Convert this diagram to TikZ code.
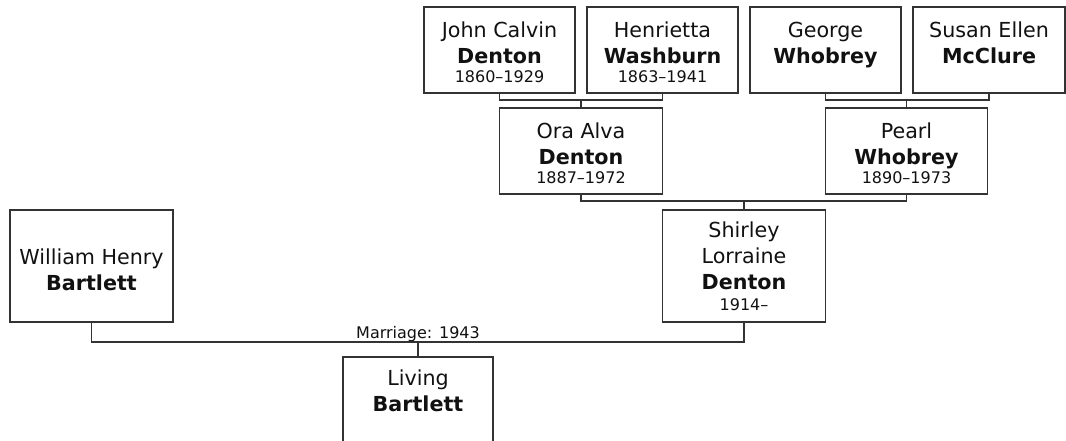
\documentclass[tikz,border=0pt]{standalone}
\usepackage{fontspec}
\setmainfont{DejaVu Sans}
\usepackage{tikz}
\usetikzlibrary{positioning}
\usepackage{xcolor}
\definecolor{linegray}{RGB}{51,51,51}
\definecolor{inkblack}{RGB}{17,17,17}
\newcommand{\yrs}[1]{{\fontsize{12}{14}\selectfont #1}}
\newcommand{\lift}[1]{\rule{0pt}{#1}}

\begin{document}
\begin{tikzpicture}[
    x=0.75pt, y=-0.75pt,
    node distance=9pt,
    box/.style={draw=linegray, line width=1pt, outer sep=0pt, minimum width=113.25pt, minimum height=64.5pt,
      align=center, inner sep=2pt, text=inkblack, font=\fontsize{15.5}{19.5}\selectfont},
    widebox/.style={box, minimum width=122.25pt},
    tallbox/.style={widebox, minimum height=84pt},
    link/.style={draw=linegray, line width=1pt},
    lbl/.style={inner sep=0pt, text=inkblack, font=\fontsize{12}{14}\selectfont}
  ]
    \useasboundingbox (0,0) rectangle (1066,441);
    % grandparents
    \node[box, anchor=north west] (john) at (424,7) {\lift{15.5pt}John Calvin\\\textbf{Denton}\\[-5pt]\yrs{1860--1929}};
    \node[box, right=of john] (henrietta) {\lift{15.5pt}Henrietta\\\textbf{Washburn}\\[-5pt]\yrs{1863--1941}};
    \node[box, right=of henrietta] (george) {\lift{15.5pt}George\\\textbf{Whobrey}\\[-5pt]\yrs{\phantom{0}}};
    \node[box, right=of george, minimum width=114pt] (susan) {\lift{15.5pt}Susan Ellen\\\textbf{McClure}\\[-5pt]\yrs{\phantom{0}}};
    % parents
    \node[widebox, below right=11.25pt and 0pt of john.south] (ora) {\lift{15.5pt}Ora Alva\\\textbf{Denton}\\[-5pt]\yrs{1887--1972}};
    \node[widebox, below right=11.25pt and 0pt of george.south, minimum width=121.5pt] (pearl) {\lift{15.5pt}Pearl\\\textbf{Whobrey}\\[-5pt]\yrs{1890--1973}};
    \node[tallbox, below right=12pt and 0pt of ora.south east] (shirley) {Shirley\\Lorraine\\\textbf{Denton}\\[-4pt]\yrs{1914--}};
    \node[tallbox, anchor=north west] (william) at (10,210) {\lift{18pt}William Henry\\\textbf{Bartlett}};
    % child
    \node[tallbox, anchor=north, minimum width=112.5pt, minimum height=90pt] (living) at (418,357) {Living\\\textbf{Bartlett}\\ \\ };
    % connectors
    \draw[link] (ora.north) -- ++(0,-8) coordinate (jh);
    \draw[link] (john.south) |- (jh) -| (henrietta.south);
    \draw[link] (pearl.north) -- ++(0,-8) coordinate (gs);
    \draw[link] (george.south) |- (gs) -| (susan.south);
    \draw[link] (shirley.north) -- ++(0,-9) coordinate (op);
    \draw[link] (ora.south) |- (op) -| (pearl.south);
    \draw[link] (living.north) -- ++(0,-15) coordinate (ws);
    \draw[link] (william.south) |- (ws) -| (shirley.south);
    \node[lbl, anchor=base] (marriage) at ([yshift=2.5pt]ws) {Marriage: 1943};
  \end{tikzpicture}
\end{document}
